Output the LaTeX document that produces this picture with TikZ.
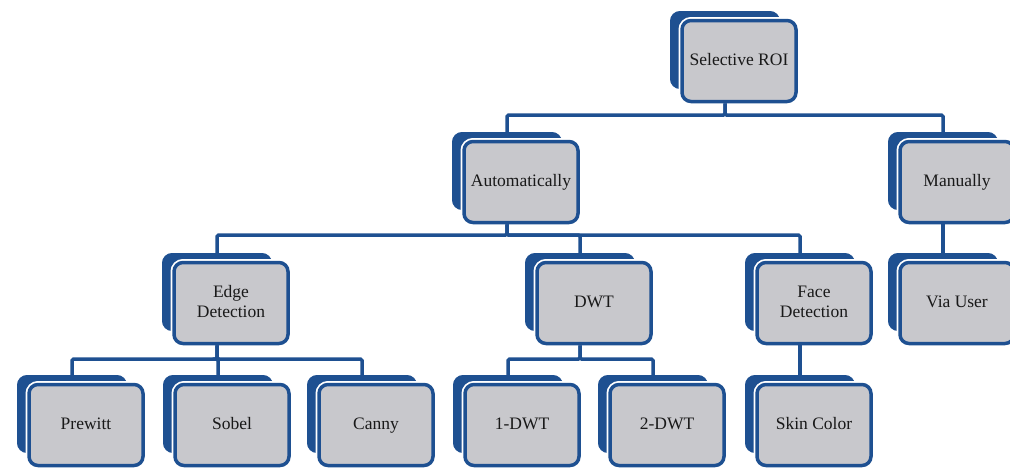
\documentclass[tikz,border=0pt]{standalone}
\usepackage{fontspec}
\setmainfont{Liberation Serif}
\definecolor{boxblue}{RGB}{30,80,145}
\definecolor{boxgray}{RGB}{200,200,204}
\begin{document}
\begin{tikzpicture}[x=1pt,y=-1pt,
  backbox/.style={draw=boxblue, fill=boxblue, line width=2pt, rounded corners=9pt,
    minimum width=108pt, minimum height=76pt, inner sep=0pt},
  frontbox/.style={preaction={draw=white, line width=7pt}, draw=boxblue, fill=boxgray,
    line width=3.5pt, rounded corners=9pt, minimum width=114pt, minimum height=81pt,
    inner sep=0pt, align=center, font=\fontsize{17.5}{20}\selectfont, text=black!90},
  link/.style={draw=boxblue, line width=3.5pt, rounded corners=1.5pt}]
\useasboundingbox (0,0) rectangle (1010,467);
\clip (0,0) rectangle (1010,467);

% bus lines of each level
\coordinate (busA) at (0,115);
\coordinate (busB) at (0,235);
\coordinate (busC) at (0,359);

% level 0
\node[backbox] (roiB) at (725,50) {};
\node[frontbox] (roi) at (739,61) {Selective ROI\strut};

% level 1
\node[backbox] (autoB) at (507,171) {};
\node[frontbox] (auto) at (521,182) {Automatically\strut};
\node[backbox] (manB) at (943,171) {};
\node[frontbox] (man) at (957,182) {Manually\strut};

% level 2
\node[backbox] (edgeB) at (217,292) {};
\node[frontbox] (edge) at (231,303) {Edge\strut\\Detection\strut};
\node[backbox] (dwtB) at (580,292) {};
\node[frontbox] (dwt) at (594,303) {DWT\strut};
\node[backbox] (faceB) at (800,292) {};
\node[frontbox] (face) at (814,303) {Face\strut\\Detection\strut};
\node[backbox] (userB) at (943,292) {};
\node[frontbox] (user) at (957,303) {Via User\strut};

% level 3
\node[backbox] (prewB) at (72,414) {};
\node[frontbox] (prew) at (86,425) {Prewitt\strut};
\node[backbox] (sobB) at (218,414) {};
\node[frontbox] (sob) at (232,425) {Sobel\strut};
\node[backbox] (cannyB) at (362,414) {};
\node[frontbox] (canny) at (376,425) {Canny\strut};
\node[backbox] (dwtoneB) at (508,414) {};
\node[frontbox] (dwtone) at (522,425) {1-DWT\strut};
\node[backbox] (dwttwoB) at (653,414) {};
\node[frontbox] (dwttwo) at (667,425) {2-DWT\strut};
\node[backbox] (skinB) at (800,414) {};
\node[frontbox] (skin) at (814,425) {Skin Color\strut};

% connectors
\foreach \c in {autoB,manB}
  \draw[link] (roiB |- roi.south) -- (roiB |- busA) -| (\c.north);
\foreach \c in {edgeB,dwtB,faceB}
  \draw[link] (autoB |- auto.south) -- (autoB |- busB) -| (\c.north);
\draw[link] (manB |- man.south) -- (userB.north);
\foreach \c in {prewB,sobB,cannyB}
  \draw[link] (edgeB |- edge.south) -- (edgeB |- busC) -| (\c.north);
\foreach \c in {dwtoneB,dwttwoB}
  \draw[link] (dwtB |- dwt.south) -- (dwtB |- busC) -| (\c.north);
\draw[link] (faceB |- face.south) -- (skinB.north);
\end{tikzpicture}
\end{document}
